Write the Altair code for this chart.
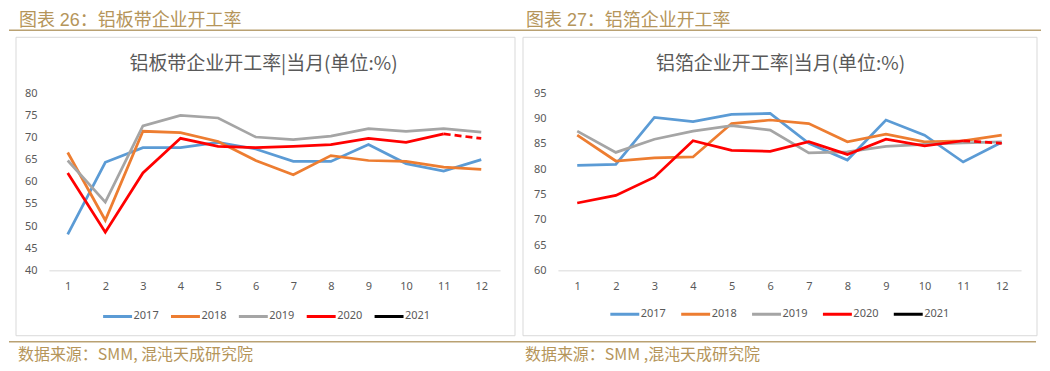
import altair as alt
import pandas as pd

# ---------------- data ----------------
months = list(range(1, 13))
years = ["2017", "2018", "2019", "2020", "2021"]
year_colors = ["#5B9BD5", "#ED7D31", "#A5A5A5", "#FF0000", "#000000"]

# 铝板带企业开工率 (%)
plate_2017 = [48.1, 64.4, 67.7, 67.7, 68.9, 67.4, 64.6, 64.6, 68.4, 64.1, 62.4, 65.0]
plate_2018 = [66.6, 51.3, 71.4, 71.1, 69.1, 64.8, 61.6, 65.9, 64.8, 64.6, 63.3, 62.8]
plate_2019 = [64.8, 55.4, 72.6, 75.0, 74.4, 70.1, 69.5, 70.3, 72.0, 71.4, 72.0, 71.2]
plate_2020 = [62.0, 48.6, 62.0, 69.8, 68.0, 67.7, 68.0, 68.4, 69.8, 68.9, 70.8, 69.8]

# 铝箔企业开工率 (%)
foil_2017 = [80.75, 80.95, 90.2, 89.4, 90.8, 91.0, 85.1, 81.8, 89.7, 86.7, 81.4, 85.3]
foil_2018 = [86.7, 81.6, 82.2, 82.4, 89.0, 89.7, 89.0, 85.4, 86.9, 85.4, 85.6, 86.7]
foil_2019 = [87.5, 83.3, 85.9, 87.5, 88.6, 87.7, 83.2, 83.4, 84.5, 84.9, 85.2, 85.4]
foil_2020 = [73.3, 74.8, 78.4, 85.6, 83.7, 83.5, 85.4, 82.9, 85.9, 84.6, 85.6, 85.1]

plate_ticks = [40, 45, 50, 55, 60, 65, 70, 75, 80]
foil_ticks = [60, 65, 70, 75, 80, 85, 90, 95]

header_left = "图表 26：铝板带企业开工率"
header_right = "图表 27：铝箔企业开工率"
title_left = "铝板带企业开工率|当月(单位:%)"
title_right = "铝箔企业开工率|当月(单位:%)"
source_left = "数据来源：SMM, 混沌天成研究院"
source_right = "数据来源：SMM ,混沌天成研究院"

GOLD_TEXT = "#B5955A"
GOLD_LINE = "#B9A172"
GRAY_TEXT = "#595959"
CJK = "Noto Sans CJK SC"
HDR_FONT = "Liberation Sans, Noto Sans CJK SC"
LATIN = "Noto Sans"


def solid_df(series):
    rows = []
    for yr, vals in zip(years, series):
        n = len(vals) - 1 if yr == "2020" else len(vals)
        for m, v in zip(months[:n], vals[:n]):
            rows.append({"month": m, "value": v, "year": yr})
    return pd.DataFrame(rows)


def dash_df(vals2020):
    return pd.DataFrame({"month": months[-2:], "value": vals2020[-2:]})


one = pd.DataFrame({"k": [0]})


def panel(series, ticks, width, height, title, title_x, header, source,
          border, legend_x, legend_y, col_pad, anchor=None):
    x_enc = alt.X("month:O",
                  scale=alt.Scale(type="point", padding=0.5, domain=months),
                  axis=alt.Axis(title=None, labelAngle=0, ticks=False,
                                domainColor="#D9D9D9", domainWidth=1,
                                labelColor=GRAY_TEXT, labelFont=LATIN,
                                labelFontSize=11, labelPadding=10, grid=False,
                                labelOverlap=False))
    y_enc = alt.Y("value:Q",
                  scale=alt.Scale(domain=[ticks[0], ticks[-1]], nice=False, zero=False),
                  axis=alt.Axis(title=None, values=ticks, tickCount=len(ticks),
                                ticks=False, domain=False,
                                grid=False, labelColor=GRAY_TEXT, labelFont=LATIN,
                                labelFontSize=11, labelPadding=12, labelOverlap=False))
    lines = alt.Chart(solid_df(series)).mark_line(strokeWidth=2.75).encode(
        x=x_enc, y=y_enc,
        color=alt.Color("year:N",
                        scale=alt.Scale(domain=years, range=year_colors),
                        legend=alt.Legend(orient="none", legendX=legend_x, legendY=legend_y,
                                          direction="horizontal", title=None,
                                          symbolType="stroke", symbolSize=841,
                                          symbolStrokeWidth=3, labelFontSize=11,
                                          labelFont=LATIN, labelColor=GRAY_TEXT,
                                          labelOffset=0, columnPadding=col_pad,
                                          padding=0, clipHeight=12)),
    )
    dashed = alt.Chart(dash_df(series[3])).mark_line(
        strokeWidth=2.75, strokeDash=[7, 4], color="#FF0000").encode(
        x=x_enc, y=y_enc)

    bx1, bx2, by1, by2 = border
    frame = alt.Chart(one).mark_rect(fill="white", fillOpacity=0, stroke="#D9D9D9",
                                     strokeWidth=1).encode(
        x=alt.value(bx1), x2=alt.value(bx2), y=alt.value(by1), y2=alt.value(by2))
    ttl = alt.Chart(one).mark_text(align="center", baseline="middle", fontSize=19,
                                   font=CJK, color=GRAY_TEXT).encode(
        x=alt.value(title_x), y=alt.value(-29.5), text=alt.value(title))
    hdr = alt.Chart(one).mark_text(align="left", baseline="middle", fontSize=18,
                                   font=HDR_FONT, color=GOLD_TEXT).encode(
        x=alt.value(bx1 + 3), y=alt.value(-72), text=alt.value(header))
    src = alt.Chart(one).mark_text(align="left", baseline="middle", fontSize=16,
                                   font=CJK, color=GOLD_TEXT).encode(
        x=alt.value(bx1 + 2), y=alt.value(262), text=alt.value(source))
    layers = []
    if anchor is not None:
        ax1, ax2 = anchor
        layers.append(alt.Chart(one).mark_rect(opacity=0).encode(
            x=alt.value(ax1), x2=alt.value(ax2), y=alt.value(-85), y2=alt.value(270)))
        layers.append(alt.Chart(one).mark_rule(color=GOLD_LINE, strokeWidth=1.5).encode(
            x=alt.value(ax1), x2=alt.value(ax2), y=alt.value(-63)))
        layers.append(alt.Chart(one).mark_rule(color=GOLD_LINE, strokeWidth=1.5).encode(
            x=alt.value(ax1), x2=alt.value(ax2 - 5), y=alt.value(249)))
    layers += [frame, ttl, hdr, src, lines, dashed]
    return alt.layer(*layers).properties(width=width, height=height)


left = panel([plate_2017, plate_2018, plate_2019, plate_2020, []], plate_ticks,
             452, 177.5, title_left, 215, header_left, source_left,
             (-33, 467, -56, 243), 52.8, 217.7, 10, anchor=(-40, 994))
right = panel([foil_2017, foil_2018, foil_2019, foil_2020, []], foil_ticks,
              464, 177.5, title_right, 223, header_right, source_right,
              (-35, 480, -56, 243), 51, 215.5, 13)

chart = alt.hconcat(left, right, spacing=58, bounds="flush", padding=0,
                    background="white").resolve_scale(
    x="independent", y="independent", color="independent"
).resolve_legend(color="independent").configure_view(strokeWidth=0)

chart.save("out.html", embed_options={"renderer": "svg", "actions": False})
